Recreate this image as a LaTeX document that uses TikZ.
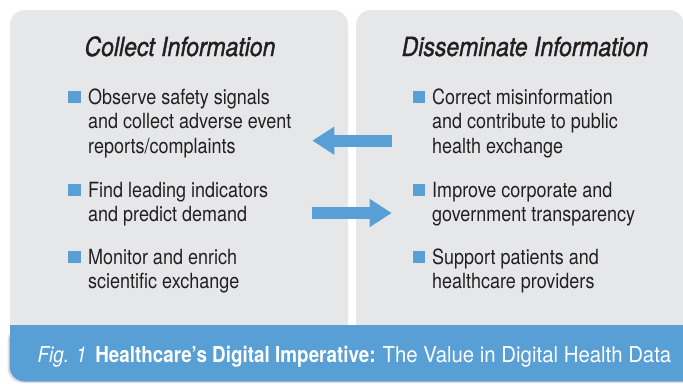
\documentclass[tikz,border=0pt]{standalone}
\usepackage{fontspec}
\setmainfont{TeX Gyre Heros}[FakeStretch=0.86]
\newfontfamily\headfont{TeX Gyre Heros}[FakeStretch=0.87, FakeBold=1.3]
\newfontfamily\capwide{TeX Gyre Heros}[FakeStretch=0.93]
\usetikzlibrary{arrows.meta}
\definecolor{panelgray}{HTML}{E6E7E9}
\definecolor{accent}{HTML}{589FD5}
\definecolor{ink}{HTML}{231F20}
\begin{document}
\begin{tikzpicture}[x=1bp,y=-1bp,
  panel/.style={fill=panelgray, rounded corners=15bp},
  heading/.style={anchor=base, inner sep=0pt, text=ink,
    font=\headfont\fontsize{26.5}{30}\selectfont\itshape},
  item/.style={anchor=base west, inner sep=0pt, text=ink,
    font=\fontsize{21}{24.6}\selectfont},
  bullet/.style={fill=accent, inner sep=0pt, minimum size=12.5bp, anchor=south west},
  bigarrow/.style={draw=accent, line width=11.7bp,
    -{Triangle[length=22bp, width=26.7bp]}},
  caption/.style={anchor=base west, inner sep=0pt, text=white,
    font=\fontsize{22}{26}\selectfont}]
\useasboundingbox (0,0) rectangle (683,383);
\begin{scope}
  \clip (0,0) rectangle (683,383);
  % two grey panels
  \fill[panel] (10,10) rectangle (348,345);
  \fill[panel] (356,10) rectangle (684,345);
  % caption band with a soft shadow and one rounded corner
  \fill[black!12, rounded corners=15bp] (7.5,326) rectangle (720,383);
  \fill[accent, rounded corners=15bp] (9.5,325) rectangle (720,381.5);
  \fill[accent] (9.5,325) rectangle (720,350);
\end{scope}

% headings
\node[heading] (hcollect) at (180,56) {Collect Information};
\node[heading] (hdissem) at (525,56) {Disseminate Information};

% left column
\node[bullet] (b1) at (68,103.5) {};
\node[item] (c1) at (88,104) {\parbox[t]{250bp}{\raggedright Observe safety signals\\and collect adverse event\\reports/complaints}};
\node[bullet] (b2) at (68,196.5) {};
\node[item] (c2) at (88,197) {\parbox[t]{250bp}{\raggedright Find leading indicators\\and predict demand}};
\node[bullet] (b3) at (68,263.5) {};
\node[item] (c3) at (88,264) {\parbox[t]{250bp}{\raggedright Monitor and enrich\\scientific exchange}};

% right column
\node[bullet] (b4) at (412.5,103.5) {};
\node[item] (d1) at (432,104) {\parbox[t]{250bp}{\raggedright Correct misinformation\\and contribute to public\\health exchange}};
\node[bullet] (b5) at (412.5,196.5) {};
\node[item] (d2) at (432,197) {\parbox[t]{250bp}{\raggedright Improve corporate and\\government transparency}};
\node[bullet] (b6) at (412.5,263.5) {};
\node[item] (d3) at (432,264) {\parbox[t]{250bp}{\raggedright Support patients and\\healthcare providers}};

% flow arrows between the panels
\coordinate (fromright) at (392,140.7);
\coordinate (toleft) at (312.3,140.7);
\coordinate (fromleft) at (311.7,213);
\coordinate (toright) at (391.7,213);
\draw[bigarrow] (fromright) -- (toleft);
\draw[bigarrow] (fromleft) -- (toright);

% caption
\node[caption] (cap) at (37.5,362.5) {\textit{Fig. 1}\hspace{0.4em}\textbf{Healthcare’s Digital Imperative:} {\capwide The Value in Digital Health Data}};
\end{tikzpicture}
\end{document}
